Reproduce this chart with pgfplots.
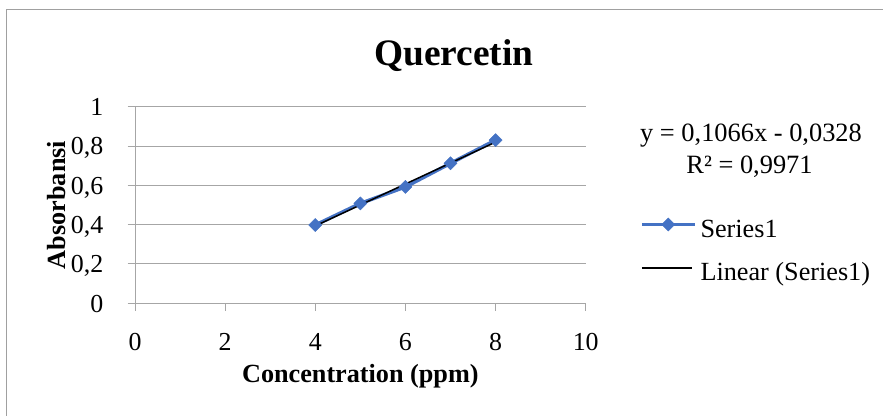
\documentclass[border=0pt]{standalone}
\usepackage{pgfplots}
\usepackage{pgfplotstable}
\pgfplotsset{compat=1.18}
\usepackage{fontspec}
\setmainfont{Liberation Serif}
\definecolor{serblue}{HTML}{4472C4}
\definecolor{gridc}{HTML}{A6A6A6}
\definecolor{borderc}{HTML}{A0A0A0}
\pgfplotsset{
  serleg/.style={legend image code/.code={\draw[##1, mark repeat=2, mark phase=2] plot coordinates {(0bp,7bp) (26.5bp,7bp) (53bp,7bp)}; \path (57bp,7bp);}},
  trendleg/.style={legend image code/.code={\draw[##1] (0bp,7bp) -- (50bp,7bp); \path (57bp,7bp);}},
}
\pgfplotstableread{
x y
4 0.398
5 0.508
6 0.592
7 0.712
8 0.830
}\datatable
\pgfplotstableread{
x y
4 0.3936
8 0.8200
}\trendtable
\begin{document}
\begin{tikzpicture}[x=1bp,y=1bp]
\useasboundingbox (0,0) rectangle (883,415);
\draw[borderc, line width=1bp] (6.7,-5) -- (6.7,405) -- (890,405);
\node[font=\fontsize{37.5}{44}\selectfont\bfseries, anchor=base] at (454,350) {Quercetin};
\begin{axis}[
  at={(135bp,111.7bp)}, anchor=south west,
  scale only axis, width=450.7bp, height=196.6bp,
  xmin=0, xmax=10, ymin=0, ymax=1,
  xtick={0,2,4,6,8,10}, ytick={0,0.2,0.4,0.6,0.8,1},
  axis x line*=bottom, axis y line*=left,
  axis line style={gridc, line width=1bp},
  ymajorgrids, grid style={gridc, line width=1bp},
  tick align=outside, major tick length=7.5bp,
  tick style={gridc, line width=1bp},
  /pgf/number format/assume math mode=true,
  /pgf/number format/use comma,
  ticklabel style={font=\fontsize{26}{30}\selectfont},
  xticklabel style={anchor=north, inner sep=0pt, yshift=-22.7bp},
  yticklabel style={anchor=base east, inner sep=0pt, xshift=-24bp, yshift=-8.8bp},
  every axis y label/.style={at={(axis description cs:-0.173,0.5)}, rotate=90, anchor=center, font=\fontsize{26.3}{30}\selectfont\bfseries},
  every axis x label/.style={at={(axis description cs:0.5,-0.4003)}, anchor=base, font=\fontsize{26.3}{30}\selectfont\bfseries},
  xlabel={Concentration (ppm)},
  ylabel={Absorbansi},
  legend style={at={(axis description cs:1.1205,0.4339)}, anchor=north west, draw=none, fill=none,
    inner sep=0pt, outer sep=0pt, row sep=20.3bp, column sep=0pt,
    font=\fontsize{26.3}{30}\selectfont,
    nodes={inner sep=0pt, text height=17bp, text depth=6bp}},
  legend cell align=left,
  clip=false,
]
\addplot[serblue, line width=3.5bp, mark=square*, mark size=4.6bp, mark options={rotate=45, fill=serblue, draw=serblue, line width=0.5bp}, serleg]
  table[x=x, y=y] {\datatable};
\addlegendentry{Series1}
\addplot[black, line width=1.5bp, no marks, trendleg]
  table[x=x, y=y] {\trendtable};
\addlegendentry{Linear (Series1)}
\end{axis}
\node[anchor=base, font=\fontsize{26.5}{30}\selectfont] at (751,273.3) {y = 0,1066x - 0,0328};
\node[anchor=base, font=\fontsize{26.5}{30}\selectfont] at (749.5,242) {R² = 0,9971};
\end{tikzpicture}
\end{document}
